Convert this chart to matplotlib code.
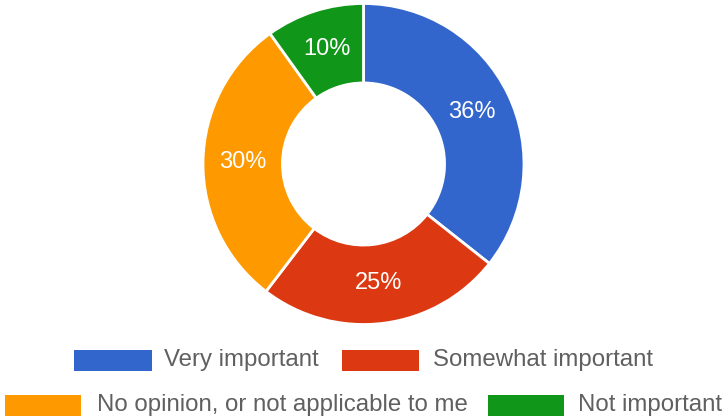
"""Donut chart: importance survey responses."""

import numpy as np
import matplotlib
matplotlib.use('Agg')
import matplotlib.pyplot as plt
from matplotlib.patches import Rectangle

plt.rcParams['font.family'] = ['Liberation Sans', 'DejaVu Sans']

categories = ['Very important', 'Somewhat important',
              'No opinion, or not applicable to me', 'Not important']
values = [36, 25, 30, 10]
pct_labels = ['36%', '25%', '30%', '10%']
colors = ['#3366CC', '#DC3912', '#FF9900', '#109618']

W, H = 724, 416
fig = plt.figure(figsize=(W / 100, H / 100), dpi=100)

# donut axes, square, placed in pixel units
cx, cy, r = 363.5, H - 164, 160.5
ax = fig.add_axes([(cx - r) / W, (cy - r) / H, 2 * r / W, 2 * r / H])
wedges, _ = ax.pie(values, colors=colors, startangle=90, counterclock=False,
                   radius=1.0,
                   wedgeprops=dict(width=0.495, edgecolor='white', linewidth=2))
ax.set_xlim(-1, 1)
ax.set_ylim(-1, 1)
ax.set_aspect('equal')
ax.axis('off')

# percentage labels in the middle of the ring
for w, lab in zip(wedges, pct_labels):
    ang = np.deg2rad((w.theta1 + w.theta2) / 2)
    rr = 0.75
    ax.text(rr * np.cos(ang), rr * np.sin(ang), lab, ha='center', va='center',
            color='white', fontsize=17)

# legend drawn by hand (two rows, google-charts style)
legend_rows = [
    # (patch x0, patch x1, text x, center y) in pixels from top-left
    (74, 152, 164, 360),
    (342, 419, 433, 360),
    (5, 81, 97, 405),
    (488, 564, 578, 405),
]
for (x0, x1, tx, yc), cat, col in zip(legend_rows, categories, colors):
    ph = 21
    fig.add_artist(Rectangle((x0 / W, (H - yc - ph / 2) / H),
                             (x1 - x0) / W, ph / H,
                             transform=fig.transFigure, facecolor=col,
                             edgecolor='none'))
    fig.text(tx / W, (H - yc) / H, cat, ha='left', va='center',
             fontsize=17.3, color='#606060')

fig.savefig('out.png', dpi=100, facecolor='white')
